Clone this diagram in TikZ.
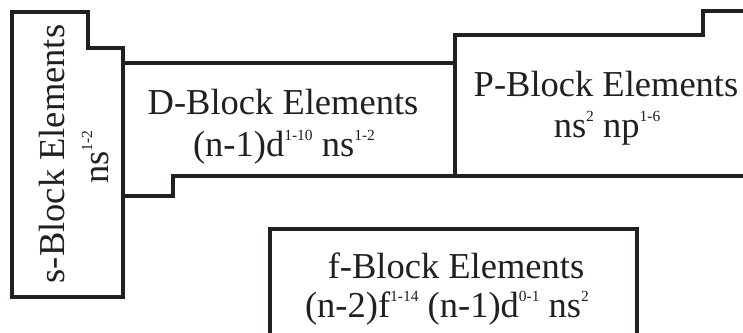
\documentclass[tikz,border=0pt]{standalone}
\usepackage{fontspec}
\setmainfont{Liberation Serif}
\definecolor{ink}{HTML}{231F20}
\newcommand\sps[1]{\raisebox{16pt}{\fontsize{15.5}{16}\selectfont #1}}
\tikzset{
  blockline/.style={draw=ink, line width=3.2pt, line join=miter},
  txt/.style={inner sep=0pt, anchor=base, text=ink, font=\fontsize{36.5}{40}\selectfont},
}
\begin{document}
\begin{tikzpicture}[x=1pt, y=-1pt]
\useasboundingbox (0,0) rectangle (743,332);
\begin{scope}
\clip (0,0) rectangle (743,332);
% s-block
\draw[blockline] (12,12) -- (88,12) -- (88,48) -- (123,48) -- (123,297) -- (12,297) -- cycle;
% d-block
\draw[blockline] (123,63) -- (455,63) -- (455,176) -- (173,176) -- (173,196) -- (123,196) -- cycle;
% p-block
\draw[blockline] (750,11) -- (703,11) -- (703,35) -- (455,35) -- (455,176) -- (750,176);
% f-block
\draw[blockline] (270,340) -- (270,229) -- (637,229) -- (637,340);
\end{scope}
% texts
\node[txt, rotate=90] (s1) at (64,154) {s-Block Elements};
\node[txt, rotate=90] (s2) at (108,157) {ns\sps{1-2}};
\node[txt] (d1) at (283,114) {D-Block Elements};
\node[txt] (d2) at (284,156) {(n-1)d\sps{1-10} ns\sps{1-2}};
\node[txt] (p1) at (606,96) {P-Block Elements};
\node[txt] (p2) at (607,137) {ns\sps{2} np\sps{1-6}};
\node[txt] (f1) at (456,278) {f-Block Elements};
\node[txt] (f2) at (447,317) {(n-2)f\sps{1-14} (n-1)d\sps{0-1} ns\sps{2}};
\end{tikzpicture}
\end{document}
